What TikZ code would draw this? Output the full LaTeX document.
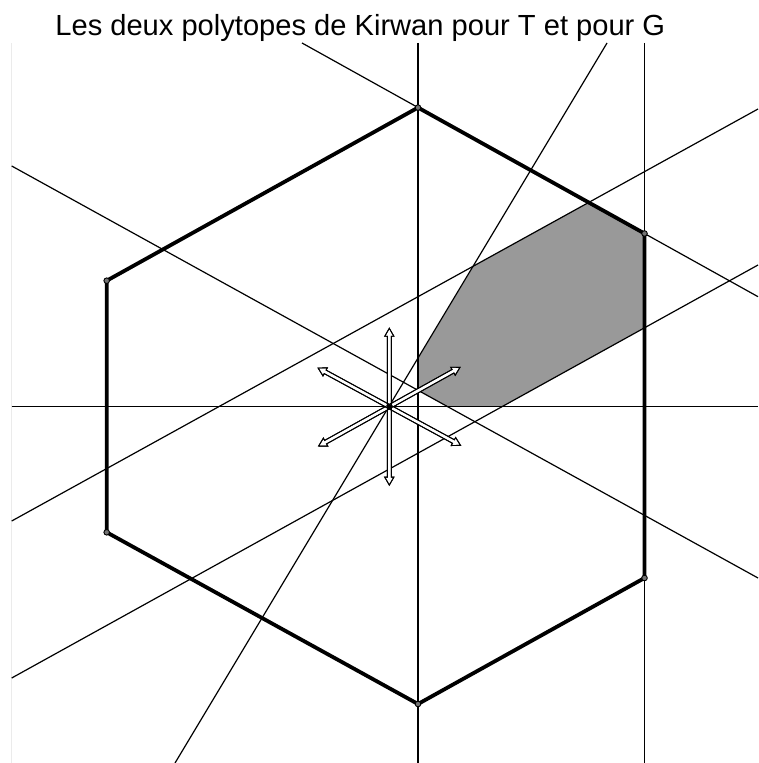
\documentclass[tikz,border=0pt]{standalone}
\usepackage{fontspec}
\setmainfont{Liberation Sans}
\tikzset{
  thinline/.style={line width=0.6pt, draw=black},
  faintline/.style={line width=0.5pt, draw=black!8},
  hexline/.style={line width=1.9pt, draw=black, line join=round},
  kirwanshade/.style={fill=black!40},
  vertexdot/.style={draw=black, fill=black!55, line width=0.45pt},
  rootarrow/.style={draw=black, line width=0.45pt, line join=miter},
}
\newcommand\rootarr[3]{% #1 angle, #2 half length, #3 fill
  \begin{scope}[shift={(O)}, rotate=#1]
    \path[rootarrow, #3] ({-#2},0) -- ({-#2+8},4.6) -- ({-#2+8},2) -- ({#2-8},2)
      -- ({#2-8},4.6) -- ({#2},0) -- ({#2-8},-4.6) -- ({#2-8},-2) -- ({-#2+8},-2)
      -- ({-#2+8},-4.6) -- cycle;
  \end{scope}}
\begin{document}
\begin{tikzpicture}[x=0.5pt, y=-0.5pt]
  \useasboundingbox (0,0) rectangle (758,763);
  % named points
  \coordinate (O) at (389.3,406.7);
  \coordinate (hT) at (418,107.6);
  \coordinate (hUR) at (644.5,233.5);
  \coordinate (hLR) at (644.5,578);
  \coordinate (hB) at (418,704);
  \coordinate (hLL) at (106.7,532.3);
  \coordinate (hUL) at (106.7,280.7);
  % line ends
  \coordinate (Hl) at (11.7,406.7);   \coordinate (Hr) at (758,406.7);
  \coordinate (V1t) at (418,43);      \coordinate (V1b) at (418,763);
  \coordinate (V2t) at (644.5,43);    \coordinate (V2b) at (644.5,763);
  \coordinate (Gt) at (607,43);       \coordinate (Gb) at (175,763);
  \coordinate (At) at (302,43);       \coordinate (Ar) at (758,296.7);
  \coordinate (Bl) at (11.7,166);     \coordinate (Br) at (758,578);
  \coordinate (Cl) at (11.7,521);     \coordinate (Cr) at (758,109);
  \coordinate (Dl) at (11.7,678);     \coordinate (Dr) at (758,265);
  \coordinate (Ft) at (11.7,43);      \coordinate (Fb) at (11.7,763);
  % shaded region corners
  \coordinate (s1) at (418,358.9);
  \coordinate (s2) at (474,265.8);
  \coordinate (s3) at (588.7,202.5);
  \coordinate (s5) at (644.5,327.8);
  \coordinate (s6) at (502.3,406.7);
  \coordinate (s7) at (447.8,406.7);
  \coordinate (s8) at (418,390.3);

  \node[anchor=base west, inner sep=0pt, font=\fontsize{14.55}{17}\selectfont] (title) at (55,36)
    {Les deux polytopes de Kirwan pour T et pour G};

  \fill[kirwanshade] (s1) -- (s2) -- (s3) -- (hUR) -- (s5) -- (s6) -- (s7) -- (s8) -- cycle;

  \draw[faintline] (Ft) -- (Fb);
  \draw[thinline] (Hl) -- (Hr);
  \draw[thinline] (V1t) -- (V1b);
  \draw[thinline] (V2t) -- (V2b);
  \draw[thinline] (Gt) -- (Gb);
  \draw[thinline] (At) -- (Ar);
  \draw[thinline] (Bl) -- (Br);
  \draw[thinline] (Cl) -- (Cr);
  \draw[thinline] (Dl) -- (Dr);

  \draw[hexline] (hT) -- (hUR) -- (hLR) -- (hB) -- (hLL) -- (hUL) -- cycle;
  \foreach \v in {hT,hUR,hLR,hB,hLL,hUL}
    \path[vertexdot] (\v) circle (1.4pt);

  \rootarr{90}{78.4}{fill=white}
  \rootarr{29.1}{80.9}{fill=white}
  \rootarr{151.5}{81}{fill=white}
  \rootarr{90}{78.4}{}
  \rootarr{29.1}{80.9}{}
  \rootarr{151.5}{81}{}
  \fill (O) circle (1.2pt);
\end{tikzpicture}
\end{document}
